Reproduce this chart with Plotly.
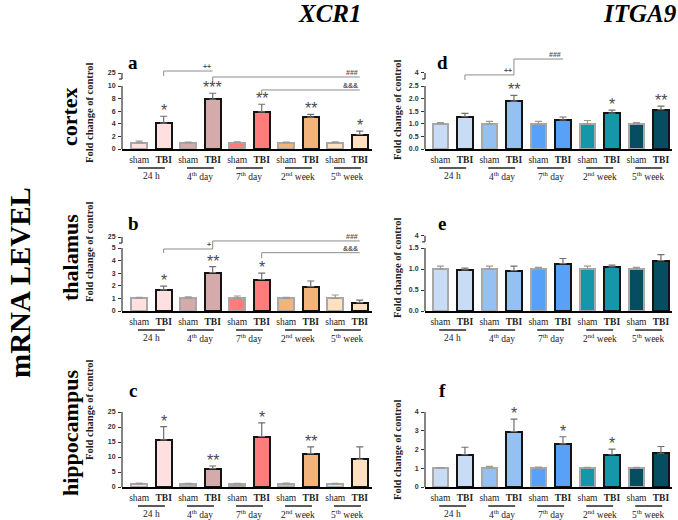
import plotly.graph_objects as go

W, H = 678, 520

# ---------------- data ----------------
groups = ["24 h", "4<sup>th</sup> day", "7<sup>th</sup> day", "2<sup>nd</sup> week", "5<sup>th</sup> week"]
conditions = ["sham", "<b>TBI</b>"]

xcr1_colors = ["#FFE0E0", "#D5AAAA", "#FF7C7C", "#F1B47A", "#FFE1C2"]
itga9_colors = ["#C9DCF6", "#95C0F4", "#58A1F8", "#1597A9", "#074D61"]

# a: XCR1 cortex
a_sham = [1.0, 1.0, 1.0, 1.0, 1.0]
a_sham_err = [0.25, 0.1, 0.15, 0.1, 0.12]
a_tbi = [4.1, 7.9, 5.9, 5.05, 2.3]
a_tbi_err = [1.1, 0.95, 1.2, 0.45, 0.55]
a_stars = ["*", "***", "**", "**", "*"]

# b: XCR1 thalamus
b_sham = [1.0, 1.0, 1.0, 1.0, 1.0]
b_sham_err = [0.08, 0.13, 0.19, 0.08, 0.27]
b_tbi = [1.68, 3.05, 2.5, 1.93, 0.66]
b_tbi_err = [0.3, 0.47, 0.5, 0.45, 0.2]
b_stars = ["*", "**", "*", "", ""]

# c: XCR1 hippocampus
c_sham = [1.0, 1.0, 1.0, 1.0, 1.0]
c_sham_err = [0.3, 0.2, 0.2, 0.3, 0.2]
c_tbi = [15.7, 6.1, 16.8, 11.1, 9.2]
c_tbi_err = [4.4, 0.9, 4.6, 2.3, 4.2]
c_stars = ["*", "**", "*", "**", ""]

# d: ITGA9 cortex
d_sham = [1.0, 1.0, 1.0, 1.0, 1.0]
d_sham_err = [0.05, 0.1, 0.1, 0.13, 0.05]
d_tbi = [1.28, 1.9, 1.15, 1.42, 1.56]
d_tbi_err = [0.13, 0.23, 0.12, 0.12, 0.14]
d_stars = ["", "**", "", "*", "**"]

# e: ITGA9 thalamus
e_sham = [1.0, 1.0, 1.0, 1.0, 1.0]
e_sham_err = [0.07, 0.07, 0.04, 0.07, 0.04]
e_tbi = [0.98, 0.96, 1.13, 1.05, 1.2]
e_tbi_err = [0.04, 0.11, 0.12, 0.04, 0.14]
e_stars = ["", "", "", "", ""]

# f: ITGA9 hippocampus
f_sham = [1.0, 1.0, 1.0, 1.0, 1.0]
f_sham_err = [0.03, 0.1, 0.06, 0.05, 0.05]
f_tbi = [1.72, 2.95, 2.3, 1.72, 1.8]
f_tbi_err = [0.4, 0.67, 0.38, 0.3, 0.36]
f_stars = ["", "*", "*", "*", ""]

# y ticks (values, labels); last tick is the broken-axis top label
a_ticks = ([0, 2, 4, 6, 8, 10], ["0", "2", "4", "6", "8", "10"], 12.06, "25")
b_ticks = ([0, 1, 2, 3, 4, 5], ["0", "1", "2", "3", "4", "5"], 5.87, "25")
c_ticks = ([0, 5, 10, 15, 20, 25], ["0", "5", "10", "15", "20", "25"], None, None)
d_ticks = ([0, 0.5, 1.0, 1.5, 2.0, 2.5], ["0.0", "0.5", "1.0", "1.5", "2.0", "2.5"], 3.02, "4")
e_ticks = ([0, 0.5, 1.0, 1.5], ["0.0", "0.5", "1.0", "1.5"], 1.79, "4")
f_ticks = ([0, 1, 2, 3, 4], ["0", "1", "2", "3", "4"], None, None)

# significance brackets: (x_left_group, x_right_group, y_line, y_left_end, label)
a_brackets = [(0, 1, 12.38, 11.6, "++"), (1, 4, 11.43, 10.5, "###"), (2, 4, 9.37, 8.6, "&&&")]
b_brackets = [(0, 1, 4.92, 4.6, "+"), (1, 4, 5.56, 4.92, "###"), (2, 4, 4.63, 4.2, "&&&")]
d_brackets = [(0, 1, 2.94, 2.74, "++"), (1, 2, 3.57, 2.94, "###")]

# ---------------- layout geometry (pixels) ----------------
col_px = [(122, 372, -0.7, 9.5), (425, 672, -0.63, 9.45)]
row_px = [(149, 40), (311, 210), (487, 395)]
ppu = [[6.3, 25.2], [12.6, 42.0], [3.0, 18.75]]

panels = [
    ("a", 0, 0, a_sham, a_sham_err, a_tbi, a_tbi_err, a_stars, a_ticks, a_brackets, xcr1_colors),
    ("d", 0, 1, d_sham, d_sham_err, d_tbi, d_tbi_err, d_stars, d_ticks, d_brackets, itga9_colors),
    ("b", 1, 0, b_sham, b_sham_err, b_tbi, b_tbi_err, b_stars, b_ticks, b_brackets, xcr1_colors),
    ("e", 1, 1, e_sham, e_sham_err, e_tbi, e_tbi_err, e_stars, e_ticks, [], itga9_colors),
    ("c", 2, 0, c_sham, c_sham_err, c_tbi, c_tbi_err, c_stars, c_ticks, [], xcr1_colors),
    ("f", 2, 1, f_sham, f_sham_err, f_tbi, f_tbi_err, f_stars, f_ticks, [], itga9_colors),
]

SERIF = "Liberation Serif, Times New Roman, serif"
SANS = "Liberation Sans, Arial, sans-serif"
GRAY = "#8c8c8c"

fig = go.Figure()
annotations = []
shapes = []

def py(px):
    return 1 - px / H

def paper_text(x, y, text, size, angle=0, family=SERIF, color="black"):
    return dict(x=x / W, y=py(y), xref="paper", yref="paper", text=text, textangle=angle,
                showarrow=False, xanchor="center", yanchor="middle",
                font=dict(family=family, size=size, color=color))

for i, (letter, r, c, sham, sham_err, tbi, tbi_err, stars, ticks, brackets, colors) in enumerate(panels):
    n = i + 1
    xname = "x" if n == 1 else f"x{n}"
    yname = "y" if n == 1 else f"y{n}"
    xl, xr, xmin, xmax = col_px[c]
    bottom, top = row_px[r]
    u = ppu[r][c]
    ymax = (bottom - top) / u
    xs_sham = [2 * k for k in range(len(groups))]
    xs_tbi = [2 * k + 1 for k in range(len(groups))]

    fig.add_trace(go.Bar(
        x=xs_sham, y=sham, width=0.64, xaxis=xname, yaxis=yname,
        marker=dict(color=colors, line=dict(color="#a8a8a8", width=2)),
        error_y=dict(type="data", array=sham_err, arrayminus=[0] * len(sham),
                     symmetric=False, color="#9a9a9a", thickness=1.2, width=3.5),
        showlegend=False, hoverinfo="y"))
    fig.add_trace(go.Bar(
        x=xs_tbi, y=tbi, width=0.64, xaxis=xname, yaxis=yname,
        marker=dict(color=colors, line=dict(color="#141414", width=2)),
        error_y=dict(type="data", array=tbi_err, arrayminus=[0] * len(tbi),
                     symmetric=False, color="#707070", thickness=1.2, width=3.5),
        showlegend=False, hoverinfo="y"))

    tv, tt, brk_v, brk_t = ticks
    tickvals = list(tv) + ([brk_v] if brk_v is not None else [])
    ticktext = list(tt) + ([brk_t] if brk_t is not None else [])

    xkey = "xaxis" if n == 1 else f"xaxis{n}"
    ykey = "yaxis" if n == 1 else f"yaxis{n}"
    fig.layout[xkey] = dict(
        domain=[xl / W, xr / W], range=[xmin, xmax], anchor=yname, automargin=False,
        showgrid=False, zeroline=False, showline=True, linecolor="black", linewidth=1.5,
        tickmode="array", tickvals=xs_sham + xs_tbi,
        ticktext=[conditions[0]] * 5 + [conditions[1]] * 5,
        ticks="", tickfont=dict(family=SERIF, size=9.5, color="#222"),
        ticklabelstandoff=1, fixedrange=True)
    fig.layout[ykey] = dict(
        domain=[py(bottom), py(top)], range=[0, ymax], anchor=xname, automargin=False,
        showgrid=False, zeroline=False, showline=False,
        tickmode="array", tickvals=tickvals, ticktext=ticktext,
        ticks="outside", ticklen=3, tickwidth=1, tickcolor="#333",
        tickfont=dict(family=SANS, size=7, color="#333", weight="bold"),
        ticklabelstandoff=1, fixedrange=True)

    # main y-axis line
    shapes.append(dict(type="line", xref=f"{xname} domain", yref=yname,
                       x0=0, x1=0, y0=0, y1=tv[-1], line=dict(color="#333", width=1.2)))
    # broken-axis top segment
    if brk_v is not None:
        seg = 6 / u
        dx = 3 / (xr - xl)
        shapes.append(dict(type="line", xref=f"{xname} domain", yref=yname,
                           x0=0, x1=0, y0=brk_v, y1=brk_v - seg, line=dict(color="#333", width=1.2)))
        shapes.append(dict(type="line", xref=f"{xname} domain", yref=yname,
                           x0=-dx, x1=0, y0=brk_v - seg, y1=brk_v - seg, line=dict(color="#333", width=1.2)))

    # group labels and underlines
    for k, g in enumerate(groups):
        shapes.append(dict(type="line", xref=xname, yref="paper",
                           x0=2 * k - 0.05, x1=2 * k + 1.05,
                           y0=py(bottom + 19), y1=py(bottom + 19),
                           line=dict(color="black", width=1.3)))
        annotations.append(dict(x=2 * k + 0.5, y=py(bottom + 27), xref=xname, yref="paper",
                                text=g, showarrow=False, xanchor="center", yanchor="middle",
                                font=dict(family=SERIF, size=9.5, color="#222")))

    # stars
    for k, s in enumerate(stars):
        if s:
            annotations.append(dict(x=2 * k + 1, y=tbi[k] + tbi_err[k], xref=xname, yref=yname,
                                    text=s, showarrow=False, xanchor="center", yanchor="bottom", yshift=-5,
                                    font=dict(family=SANS, size=16, color="#4a4a4a")))

    # significance brackets
    for (g0, g1, yl, yend, lab) in brackets:
        x0 = 2 * g0 + 1
        x1 = 2 * g1 + 1
        shapes.append(dict(type="line", xref=xname, yref=yname, x0=x0, x1=x0, y0=yend, y1=yl,
                           line=dict(color=GRAY, width=1)))
        shapes.append(dict(type="line", xref=xname, yref=yname, x0=x0, x1=x1, y0=yl, y1=yl,
                           line=dict(color=GRAY, width=1)))
        annotations.append(dict(x=x1, y=yl, xref=xname, yref=yname, text=lab, showarrow=False,
                                xanchor="right", yanchor="bottom", xshift=0, yshift=-1,
                                font=dict(family=SANS, size=7, color="#555", weight="bold")))

    # panel letter
    lx = {0: 133, 1: 442}[c]
    ly = [62, 223, 390][r]
    annotations.append(paper_text(lx, ly, f"<b>{letter}</b>", 19))

# y-axis titles
ytitle_pos = [(89, 113), (89, 252), (89, 410), (397, 110), (397, 268), (397, 450)]
for (x, y) in ytitle_pos:
    annotations.append(paper_text(x, y, "<b>Fold change of control</b>", 10.5, angle=-90, color="#222"))

# row labels
for text, y in [("cortex", 117), ("thalamus", 258), ("hippocampus", 433)]:
    annotations.append(paper_text(70, y, f"<b>{text}</b>", 22, angle=-90))
annotations.append(paper_text(20, 283, "<b>mRNA LEVEL</b>", 29, angle=-90))

# column titles
for text, x in [("XCR1", 330), ("ITGA9", 640)]:
    annotations.append(paper_text(x, 13, f"<b><i>{text}</i></b>", 25))

fig.update_layout(
    template="none",
    width=W, height=H, margin=dict(l=0, r=0, t=0, b=0, autoexpand=False),
    paper_bgcolor="white", plot_bgcolor="white",
    bargap=0, annotations=annotations, shapes=shapes,
)

fig.write_html("out.html", config={"displayModeBar": False},
               post_script="document.body.style.margin='0';")
